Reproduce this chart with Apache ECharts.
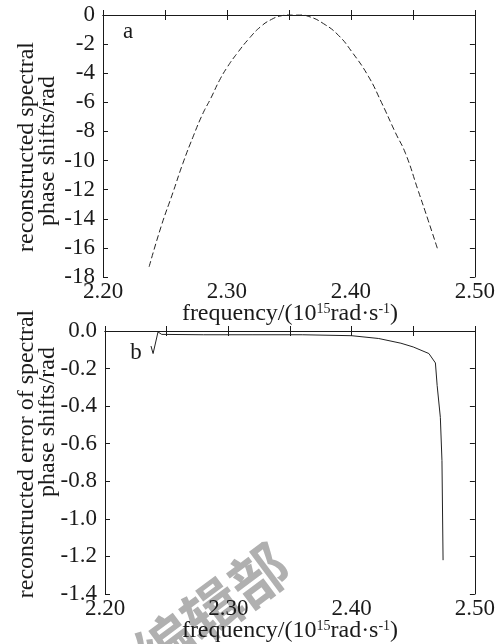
<!DOCTYPE html>
<html>
<head>
<meta charset="utf-8">
<script src="https://cdn.jsdelivr.net/npm/echarts@6/dist/echarts.min.js"></script>
<style>
  html, body { margin: 0; padding: 0; background: #fff; }
  #chart { width: 498px; height: 644px; }
</style>
</head>
<body>
<div id="chart"></div>
<script>
// panel a: reconstructed spectral phase shifts
const freqA = [2.2372, 2.2470, 2.2564, 2.2644, 2.2725, 2.2804, 2.2871, 2.2939, 2.3005, 2.3085, 2.3180, 2.3272,
  2.3360, 2.3440, 2.3550, 2.3660, 2.3780, 2.3900, 2.4005, 2.4140, 2.4246, 2.4360, 2.4440, 2.4540, 2.4623, 2.4700];
const phaseA = [-17.3, -14.5, -12.2, -10.2, -8.4, -6.8, -5.7, -4.5, -3.55, -2.6, -1.6, -0.8,
  -0.3, -0.05, 0.05, -0.1, -0.6, -1.4, -2.5, -4.2, -6.0, -8.1, -9.5, -12.0, -14.1, -16.1];

// panel b: reconstructed error of spectral phase shifts
const freqB = [2.2373, 2.2390, 2.2430, 2.2460, 2.2800, 2.3200, 2.3600, 2.4000, 2.4220, 2.4400, 2.4500,
  2.4627, 2.4680, 2.4694, 2.4707, 2.4720, 2.4733, 2.4742];
const errB = [-0.08, -0.12, -0.005, -0.018, -0.02, -0.02, -0.02, -0.025, -0.04, -0.065, -0.085,
  -0.12, -0.17, -0.29, -0.30, -0.46, -0.69, -1.22];

const xTicks = [2.20, 2.30, 2.40, 2.50];

const FONT = '"Liberation Serif", "Times New Roman", serif';
const INK = '#1a1a1a';

let chart = echarts.init(document.getElementById('chart'), null, { renderer: 'canvas' });

function xAxes(gridIndex) {
  const base = {
    type: 'value',
    gridIndex: gridIndex,
    min: 2.2,
    max: 2.5,
    interval: 0.05,
    axisLine: { show: true, lineStyle: { color: INK, width: 1 } },
    axisTick: { show: true, inside: true, length: 5, lineStyle: { color: INK } },
    splitLine: { show: false }
  };
  return [
    Object.assign({}, base, {
      position: 'bottom',
      axisLabel: {
        fontFamily: FONT, fontSize: 23, color: INK, margin: 3,
        formatter: v => {
          const hit = xTicks.find(t => Math.abs(t - v) < 1e-6);
          return hit === undefined ? '' : hit.toFixed(2);
        }
      }
    }),
    Object.assign({}, base, { position: 'top', axisLabel: { show: false } })
  ];
}

function yAxes(gridIndex, min, interval, digits) {
  const base = {
    type: 'value',
    gridIndex: gridIndex,
    min: min,
    max: 0,
    interval: interval,
    axisLine: { show: true, lineStyle: { color: INK, width: 1 } },
    axisTick: { show: true, inside: true, length: 5, lineStyle: { color: INK } },
    splitLine: { show: false }
  };
  return [
    Object.assign({}, base, {
      position: 'left',
      axisLabel: {
        fontFamily: FONT, fontSize: 23, color: INK, margin: 8,
        formatter: v => Math.abs(v) < 1e-9 ? (0).toFixed(digits) : v.toFixed(digits)
      }
    }),
    Object.assign({}, base, { position: 'right', axisLabel: { show: false } })
  ];
}

const titleRich = { s: { fontFamily: FONT, fontSize: 14, verticalAlign: 'top', lineHeight: 14, fill: INK } };

function text(x, y, str, size, rot, extra) {
  return Object.assign({
    type: 'text',
    x: x,
    y: y,
    rotation: rot || 0,
    style: {
      text: str,
      fontFamily: FONT,
      fontSize: size,
      fill: INK,
      align: 'center',
      verticalAlign: 'middle',
      textAlign: 'center',
      textVerticalAlign: 'middle',
      rich: titleRich
    }
  }, extra || {});
}

chart.setOption({
  animation: false,
  backgroundColor: '#fff',
  grid: [
    { left: 103, top: 15, width: 374, height: 262 },
    { left: 105, top: 331, width: 375, height: 263 }
  ],
  xAxis: xAxes(0).concat(xAxes(1)),
  yAxis: yAxes(0, -18, 2, 0).concat(yAxes(1, -1.4, 0.2, 1)),
  graphic: [
    {
      type: 'text',
      x: 212, y: 610,
      rotation: 0.64,
      z: 0,
      style: {
        text: '编辑部',
        fontFamily: '"Noto Sans CJK SC", sans-serif',
        fontSize: 58,
        fontWeight: 'bold',
        fill: '#b0b0b0',
        align: 'center', verticalAlign: 'middle',
        textAlign: 'center', textVerticalAlign: 'middle'
      }
    },
    text(290, 314, 'frequency/(10{s|15}rad·s{s|-1})', 24),
    text(290, 631, 'frequency/(10{s|15}rad·s{s|-1})', 24),
    text(27, 147, 'reconstructed spectral', 24, Math.PI / 2),
    text(48, 151, 'phase shifts/rad', 24, Math.PI / 2),
    text(27, 454, 'reconstructed error of spectral', 24, Math.PI / 2),
    text(48, 422, 'phase shifts/rad', 24, Math.PI / 2),
    text(128, 32, 'a', 23),
    text(136, 353, 'b', 23)
  ],
  series: [
    {
      type: 'line',
      xAxisIndex: 0,
      yAxisIndex: 0,
      data: freqA.map((f, i) => [f, phaseA[i]]),
      showSymbol: false,
      smooth: true,
      z: 5,
      lineStyle: { color: '#222', width: 1, type: [6, 3] }
    },
    {
      type: 'line',
      xAxisIndex: 2,
      yAxisIndex: 2,
      data: freqB.map((f, i) => [f, errB[i]]),
      showSymbol: false,
      z: 5,
      lineStyle: { color: '#222', width: 1 }
    }
  ]
});
</script>
</body>
</html>
